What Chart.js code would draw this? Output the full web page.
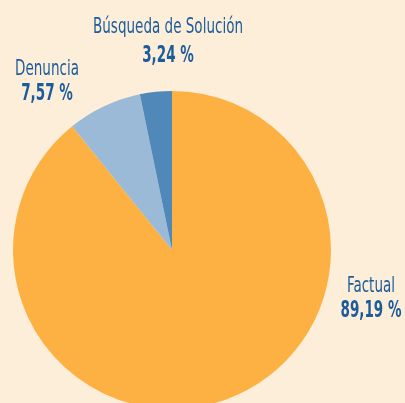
<!DOCTYPE html>
<html>
<head>
<meta charset="utf-8">
<script src="https://cdn.jsdelivr.net/npm/chart.js@4"></script>
<style>
  html, body { margin: 0; padding: 0; background: #fdeed9; overflow: hidden; }
  #wrap { width: 405px; height: 420px; position: relative; }
</style>
</head>
<body>
<div id="wrap"><canvas id="grafico"></canvas></div>
<script>
const categorias = ["Factual", "Denuncia", "Búsqueda de Solución"];
const porcentajes = [89.19, 7.57, 3.24];
const colores = ["#fcb142", "#9bbad7", "#4f88b9"];

// label anchors (centre x, baseline of name, baseline of value)
const posEtiquetas = [
  { x: 371, y1: 292, y2: 317 },
  { x: 47, y1: 75, y2: 100 },
  { x: 168, y1: 33, y2: 62 }
];

const formatar = v => v.toFixed(2).replace(".", ",") + " %";
const fonteNome = "22px 'DejaVu Sans Condensed', 'DejaVu Sans', sans-serif";
const fonteValor = "bold 23px 'DejaVu Sans Condensed', 'DejaVu Sans', sans-serif";

function textoEstreito(ctx, txt, x, y, escala) {
  ctx.save();
  ctx.translate(x, y);
  ctx.scale(escala, 1);
  ctx.fillText(txt, 0, 0);
  ctx.restore();
}

const etiquetas = {
  id: "etiquetas",
  afterDraw(chart) {
    const ctx = chart.ctx;
    ctx.save();
    ctx.fillStyle = "#1d5c9c";
    ctx.textAlign = "center";
    ctx.textBaseline = "alphabetic";
    ctx.font = fonteNome;
    const escNome = 150 / ctx.measureText("Búsqueda de Solución").width;
    ctx.font = fonteValor;
    const escValor = 61 / ctx.measureText("89,19 %").width;
    categorias.forEach((nome, i) => {
      const p = posEtiquetas[i];
      ctx.font = fonteNome;
      textoEstreito(ctx, nome, p.x, p.y1, escNome);
      ctx.font = fonteValor;
      textoEstreito(ctx, formatar(porcentajes[i]), p.x, p.y2, escValor);
    });
    ctx.restore();
  }
};

new Chart(document.getElementById("grafico").getContext("2d"), {
  type: "pie",
  data: {
    labels: categorias,
    datasets: [{
      data: porcentajes,
      backgroundColor: colores,
      borderWidth: 0
    }]
  },
  options: {
    responsive: true,
    maintainAspectRatio: false,
    animation: false,
    layout: { padding: { left: 13, right: 74, top: 91, bottom: 11 } },
    plugins: {
      legend: { display: false },
      tooltip: { enabled: false }
    }
  },
  plugins: [etiquetas]
});
</script>
</body>
</html>
